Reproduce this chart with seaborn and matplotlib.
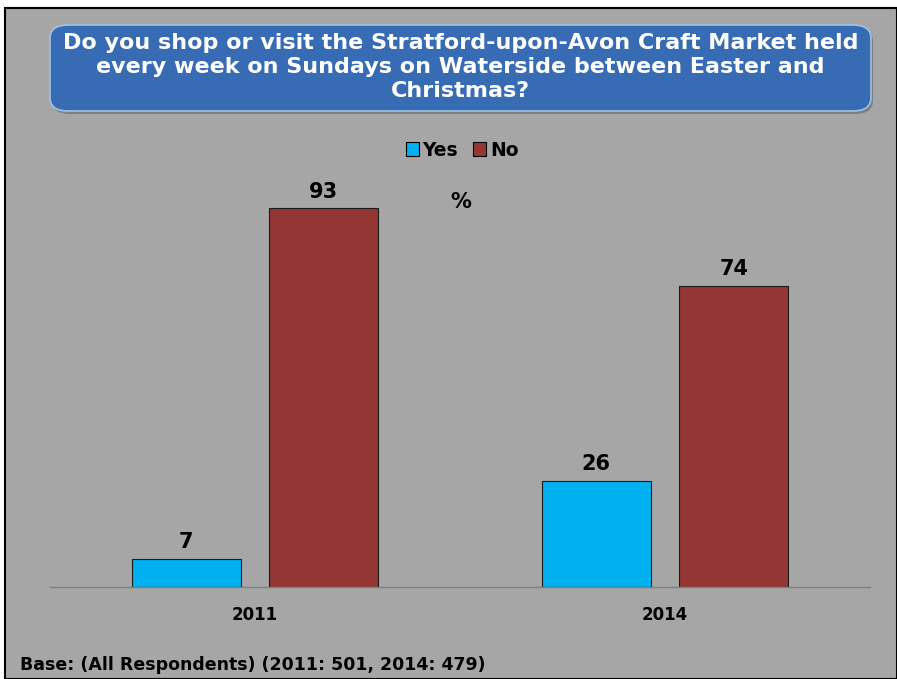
import numpy as np
import pandas as pd
import matplotlib
matplotlib.use("Agg")
import matplotlib.pyplot as plt
import seaborn as sns
from matplotlib.patches import FancyBboxPatch, Rectangle

# ---- Data ----
years = ["2011", "2014"]
answers = ["Yes", "No"]
yes_values = [7, 26]
no_values = [93, 74]

df = pd.DataFrame({
    "year": years * 2,
    "answer": ["Yes"] * len(years) + ["No"] * len(years),
    "pct": yes_values + no_values,
})

sns.set_theme(style="white")
plt.rcParams["font.family"] = ["DejaVu Sans"]
plt.rcParams["text.color"] = "black"
plt.rcParams["xtick.color"] = "black"

W, H = 897, 679
fig = plt.figure(figsize=(W / 100, H / 100), dpi=100, facecolor="white")

# grey slide background with black frame
fig.patches.append(Rectangle((5 / W, 0), 1 - 5 / W, 1 - 8 / H, transform=fig.transFigure,
                             facecolor="#a6a6a6", edgecolor="black", linewidth=1.5, zorder=-5))

# title box
bx0, bx1, by0, by1 = 50 / W, 871 / W, 1 - 111 / H, 1 - 25 / H
shadow = FancyBboxPatch((bx0 + 2 / W, by0 - 3 / H), bx1 - bx0, by1 - by0,
                        boxstyle="round,pad=0,rounding_size=0.02", transform=fig.transFigure,
                        facecolor="#7f7f7f", edgecolor="none", zorder=-4)
fig.patches.append(shadow)
box = FancyBboxPatch((bx0, by0), bx1 - bx0, by1 - by0,
                     boxstyle="round,pad=0,rounding_size=0.02", transform=fig.transFigure,
                     facecolor="#376bb3", edgecolor="#9dc3e6", linewidth=1.2, zorder=-3)
fig.patches.append(box)
fig.text((bx0 + bx1) / 2, (by0 + by1) / 2 + 1 / H,
         "Do you shop or visit the Stratford-upon-Avon Craft Market held\n"
         "every week on Sundays on Waterside between Easter and\nChristmas?",
         ha="center", va="center", color="white", fontsize=16, fontweight="bold",
         linespacing=1.22, zorder=5)

# ---- Bars ----
ax = fig.add_axes([50 / W, 92 / H, 820 / W, (587 - 180) / H], zorder=2)
ax.patch.set_alpha(0)
sns.barplot(data=df, x="year", y="pct", hue="answer", hue_order=answers, order=years,
            palette={"Yes": "#00b0f0", "No": "#943634"}, saturation=1, width=0.672, gap=0.21,
            edgecolor="#1a1a1a", linewidth=0.8, ax=ax, legend=False)
ax.set_xlim(-0.5, 1.5)
ax.set_ylim(0, 100)
for c in ax.containers:
    ax.bar_label(c, fmt="%d", padding=5, fontsize=15, fontweight="bold", color="black")
for s in ["top", "right", "left"]:
    ax.spines[s].set_visible(False)
ax.spines["bottom"].set_color("#7f7f7f")
ax.spines["bottom"].set_linewidth(1)
ax.set_yticks([])
ax.set_xlabel("")
ax.set_ylabel("")
ax.tick_params(axis="x", length=0, pad=14)
for t in ax.get_xticklabels():
    t.set_fontweight("bold")
    t.set_fontsize(12)
    t.set_color("black")

# legend
handles = [Rectangle((0, 0), 1, 1, facecolor=c, edgecolor="black", linewidth=0.8)
           for c in ["#00b0f0", "#943634"]]
fig.legend(handles, answers, loc="center", bbox_to_anchor=(462 / W, 1 - 150 / H), ncol=2,
           frameon=False, prop={"weight": "bold", "size": 13.5}, handlelength=0.7,
           handleheight=0.7, handletextpad=0.2, columnspacing=0.8)

fig.text(461 / W, 1 - 202 / H, "%", ha="center", va="center", fontsize=15, fontweight="bold")
fig.text(20 / W, 1 - 665 / H, "Base: (All Respondents) (2011: 501, 2014: 479)",
         ha="left", va="center", fontsize=12.5, fontweight="bold")

fig.savefig("out.png", dpi=100, facecolor="white")
